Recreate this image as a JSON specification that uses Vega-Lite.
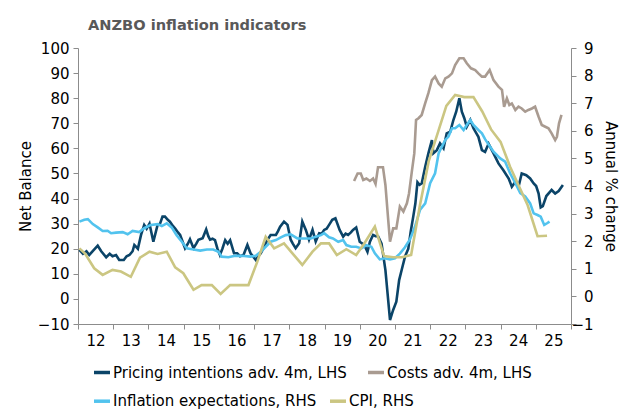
{
  "$schema": "https://vega.github.io/schema/vega-lite/v6.json",
  "width": 493,
  "height": 276,
  "autosize": {"type": "none"},
  "padding": {"left": 78, "top": 48, "right": 69, "bottom": 94},
  "background": "white",
  "title": {"text": "ANZBO inflation indicators", "anchor": "start", "frame": "group", "dx": 10, "fontSize": 14.6, "fontWeight": "bold", "color": "#595959", "font": "DejaVu Sans", "offset": 8},
  "datasets": {
    "pricing": [
      {"t": 2012.04, "v": 19.5}, {"t": 2012.14, "v": 18}, {"t": 2012.24, "v": 19}, {"t": 2012.32, "v": 17.5}, {"t": 2012.45, "v": 19.5}, {"t": 2012.56, "v": 21.2}, {"t": 2012.66, "v": 19}, {"t": 2012.8, "v": 16.6}, {"t": 2012.9, "v": 18}, {"t": 2012.98, "v": 17}, {"t": 2013.08, "v": 17.5}, {"t": 2013.17, "v": 15.5}, {"t": 2013.3, "v": 15.5}, {"t": 2013.38, "v": 17}, {"t": 2013.46, "v": 17.5}, {"t": 2013.55, "v": 19}, {"t": 2013.6, "v": 21.5}, {"t": 2013.7, "v": 20}, {"t": 2013.79, "v": 25.5}, {"t": 2013.88, "v": 29.5}, {"t": 2013.95, "v": 28}, {"t": 2014.03, "v": 30}, {"t": 2014.14, "v": 22.8}, {"t": 2014.26, "v": 29.5}, {"t": 2014.33, "v": 30}, {"t": 2014.4, "v": 32.8}, {"t": 2014.47, "v": 32.8}, {"t": 2014.55, "v": 31.5}, {"t": 2014.61, "v": 30.8}, {"t": 2014.7, "v": 29}, {"t": 2014.76, "v": 28}, {"t": 2014.84, "v": 26.5}, {"t": 2014.9, "v": 25.5}, {"t": 2015.04, "v": 20.2}, {"t": 2015.12, "v": 22}, {"t": 2015.18, "v": 23.8}, {"t": 2015.28, "v": 20.2}, {"t": 2015.36, "v": 22}, {"t": 2015.42, "v": 23.6}, {"t": 2015.54, "v": 24.2}, {"t": 2015.64, "v": 27.7}, {"t": 2015.7, "v": 25}, {"t": 2015.75, "v": 23.6}, {"t": 2015.82, "v": 24}, {"t": 2015.89, "v": 23.4}, {"t": 2015.96, "v": 20}, {"t": 2016.03, "v": 17.5}, {"t": 2016.1, "v": 20}, {"t": 2016.18, "v": 23.4}, {"t": 2016.25, "v": 22}, {"t": 2016.32, "v": 23.4}, {"t": 2016.43, "v": 18.2}, {"t": 2016.52, "v": 18.2}, {"t": 2016.6, "v": 17}, {"t": 2016.7, "v": 17.5}, {"t": 2016.81, "v": 21.5}, {"t": 2016.9, "v": 18.2}, {"t": 2017.05, "v": 15.5}, {"t": 2017.12, "v": 17}, {"t": 2017.19, "v": 18.2}, {"t": 2017.26, "v": 20}, {"t": 2017.33, "v": 22.2}, {"t": 2017.4, "v": 24}, {"t": 2017.47, "v": 25.5}, {"t": 2017.62, "v": 25.5}, {"t": 2017.68, "v": 27}, {"t": 2017.74, "v": 28.8}, {"t": 2017.85, "v": 30.8}, {"t": 2017.95, "v": 29.5}, {"t": 2018.04, "v": 23.6}, {"t": 2018.1, "v": 22}, {"t": 2018.18, "v": 20.2}, {"t": 2018.28, "v": 22.2}, {"t": 2018.37, "v": 30.8}, {"t": 2018.47, "v": 27.5}, {"t": 2018.56, "v": 23.6}, {"t": 2018.66, "v": 27.5}, {"t": 2018.75, "v": 22.9}, {"t": 2018.85, "v": 26.2}, {"t": 2018.92, "v": 26}, {"t": 2018.99, "v": 27.5}, {"t": 2019.06, "v": 28}, {"t": 2019.13, "v": 29.5}, {"t": 2019.22, "v": 31.5}, {"t": 2019.31, "v": 32.1}, {"t": 2019.43, "v": 27.5}, {"t": 2019.53, "v": 24.8}, {"t": 2019.6, "v": 26}, {"t": 2019.67, "v": 25.5}, {"t": 2019.75, "v": 26.5}, {"t": 2019.81, "v": 27.5}, {"t": 2019.9, "v": 28.5}, {"t": 2020.0, "v": 22.8}, {"t": 2020.13, "v": 21.5}, {"t": 2020.22, "v": 18.8}, {"t": 2020.29, "v": 22.8}, {"t": 2020.38, "v": 25.5}, {"t": 2020.45, "v": 25}, {"t": 2020.52, "v": 25}, {"t": 2020.62, "v": 22}, {"t": 2020.73, "v": 11.5}, {"t": 2020.86, "v": -8.4}, {"t": 2020.95, "v": -4.4}, {"t": 2021.04, "v": -1.1}, {"t": 2021.12, "v": 7.5}, {"t": 2021.2, "v": 12}, {"t": 2021.29, "v": 17}, {"t": 2021.38, "v": 20}, {"t": 2021.45, "v": 27}, {"t": 2021.52, "v": 32.8}, {"t": 2021.58, "v": 38}, {"t": 2021.64, "v": 46.5}, {"t": 2021.7, "v": 45.5}, {"t": 2021.76, "v": 46}, {"t": 2021.86, "v": 52.7}, {"t": 2021.95, "v": 58}, {"t": 2022.05, "v": 63.3}, {"t": 2022.09, "v": 58}, {"t": 2022.19, "v": 59.3}, {"t": 2022.28, "v": 62}, {"t": 2022.38, "v": 60}, {"t": 2022.47, "v": 66}, {"t": 2022.57, "v": 66.6}, {"t": 2022.66, "v": 71.3}, {"t": 2022.74, "v": 74.6}, {"t": 2022.83, "v": 80}, {"t": 2022.9, "v": 74.6}, {"t": 2022.97, "v": 72}, {"t": 2023.04, "v": 68.6}, {"t": 2023.14, "v": 71.3}, {"t": 2023.23, "v": 68}, {"t": 2023.37, "v": 64.6}, {"t": 2023.47, "v": 59.3}, {"t": 2023.56, "v": 58.6}, {"t": 2023.66, "v": 61.8}, {"t": 2023.8, "v": 58}, {"t": 2023.94, "v": 54}, {"t": 2024.08, "v": 51.3}, {"t": 2024.23, "v": 48}, {"t": 2024.32, "v": 44.7}, {"t": 2024.42, "v": 46.7}, {"t": 2024.51, "v": 44.7}, {"t": 2024.6, "v": 50}, {"t": 2024.73, "v": 49.3}, {"t": 2024.84, "v": 48}, {"t": 2024.94, "v": 46}, {"t": 2025.01, "v": 45}, {"t": 2025.08, "v": 42}, {"t": 2025.14, "v": 36.5}, {"t": 2025.2, "v": 37}, {"t": 2025.3, "v": 41}, {"t": 2025.45, "v": 43.4}, {"t": 2025.55, "v": 42}, {"t": 2025.65, "v": 43}, {"t": 2025.77, "v": 45.4}
    ],
    "costs": [
      {"t": 2019.84, "v": 47}, {"t": 2019.94, "v": 50}, {"t": 2020.03, "v": 50}, {"t": 2020.1, "v": 47.4}, {"t": 2020.19, "v": 48}, {"t": 2020.29, "v": 47}, {"t": 2020.38, "v": 48}, {"t": 2020.45, "v": 45.8}, {"t": 2020.52, "v": 52.5}, {"t": 2020.66, "v": 52.5}, {"t": 2020.73, "v": 45.4}, {"t": 2020.81, "v": 31.4}, {"t": 2020.86, "v": 22.8}, {"t": 2020.95, "v": 28.1}, {"t": 2021.04, "v": 28.1}, {"t": 2021.14, "v": 36.8}, {"t": 2021.24, "v": 34.8}, {"t": 2021.34, "v": 38.1}, {"t": 2021.4, "v": 42}, {"t": 2021.48, "v": 50.7}, {"t": 2021.55, "v": 58}, {"t": 2021.6, "v": 71.3}, {"t": 2021.67, "v": 72}, {"t": 2021.76, "v": 73.3}, {"t": 2021.86, "v": 78}, {"t": 2021.95, "v": 82}, {"t": 2022.05, "v": 87.2}, {"t": 2022.14, "v": 88.6}, {"t": 2022.24, "v": 85.9}, {"t": 2022.33, "v": 84.6}, {"t": 2022.43, "v": 87.9}, {"t": 2022.52, "v": 88.6}, {"t": 2022.62, "v": 89.9}, {"t": 2022.71, "v": 93.2}, {"t": 2022.83, "v": 95.9}, {"t": 2022.95, "v": 95.9}, {"t": 2023.04, "v": 93.9}, {"t": 2023.16, "v": 91.9}, {"t": 2023.28, "v": 91.2}, {"t": 2023.37, "v": 89.9}, {"t": 2023.47, "v": 88.6}, {"t": 2023.56, "v": 88.6}, {"t": 2023.69, "v": 91.2}, {"t": 2023.8, "v": 87.2}, {"t": 2023.94, "v": 84.6}, {"t": 2024.04, "v": 83.3}, {"t": 2024.1, "v": 76.6}, {"t": 2024.18, "v": 79.9}, {"t": 2024.25, "v": 77.3}, {"t": 2024.32, "v": 77.9}, {"t": 2024.42, "v": 75.3}, {"t": 2024.51, "v": 76.6}, {"t": 2024.6, "v": 75.9}, {"t": 2024.7, "v": 74.6}, {"t": 2024.79, "v": 75.3}, {"t": 2024.89, "v": 75.9}, {"t": 2024.98, "v": 76.6}, {"t": 2025.08, "v": 72.6}, {"t": 2025.17, "v": 69.3}, {"t": 2025.27, "v": 68.6}, {"t": 2025.36, "v": 68}, {"t": 2025.45, "v": 66}, {"t": 2025.55, "v": 63.3}, {"t": 2025.6, "v": 64.6}, {"t": 2025.66, "v": 70}, {"t": 2025.73, "v": 73.3}
    ],
    "expectations": [
      {"t": 2012.04, "v": 2.71}, {"t": 2012.18, "v": 2.78}, {"t": 2012.28, "v": 2.8}, {"t": 2012.42, "v": 2.62}, {"t": 2012.56, "v": 2.5}, {"t": 2012.7, "v": 2.37}, {"t": 2012.84, "v": 2.38}, {"t": 2012.94, "v": 2.29}, {"t": 2013.08, "v": 2.31}, {"t": 2013.27, "v": 2.33}, {"t": 2013.41, "v": 2.25}, {"t": 2013.55, "v": 2.37}, {"t": 2013.74, "v": 2.33}, {"t": 2013.88, "v": 2.47}, {"t": 2014.07, "v": 2.59}, {"t": 2014.26, "v": 2.62}, {"t": 2014.38, "v": 2.55}, {"t": 2014.52, "v": 2.65}, {"t": 2014.66, "v": 2.5}, {"t": 2014.8, "v": 2.22}, {"t": 2014.95, "v": 1.98}, {"t": 2015.09, "v": 1.74}, {"t": 2015.28, "v": 1.7}, {"t": 2015.47, "v": 1.66}, {"t": 2015.66, "v": 1.7}, {"t": 2015.84, "v": 1.7}, {"t": 2015.99, "v": 1.62}, {"t": 2016.08, "v": 1.44}, {"t": 2016.27, "v": 1.42}, {"t": 2016.46, "v": 1.47}, {"t": 2016.65, "v": 1.47}, {"t": 2016.9, "v": 1.44}, {"t": 2017.05, "v": 1.47}, {"t": 2017.19, "v": 1.62}, {"t": 2017.33, "v": 1.8}, {"t": 2017.47, "v": 1.98}, {"t": 2017.62, "v": 2.04}, {"t": 2017.76, "v": 2.14}, {"t": 2017.9, "v": 2.22}, {"t": 2018.04, "v": 2.25}, {"t": 2018.23, "v": 2.1}, {"t": 2018.42, "v": 2.1}, {"t": 2018.61, "v": 2.1}, {"t": 2018.75, "v": 2.16}, {"t": 2018.9, "v": 2.22}, {"t": 2018.99, "v": 2.29}, {"t": 2019.13, "v": 2.14}, {"t": 2019.24, "v": 2.1}, {"t": 2019.39, "v": 1.98}, {"t": 2019.53, "v": 2.04}, {"t": 2019.62, "v": 1.86}, {"t": 2019.76, "v": 1.8}, {"t": 2019.9, "v": 1.8}, {"t": 2020.05, "v": 1.74}, {"t": 2020.19, "v": 1.86}, {"t": 2020.33, "v": 1.8}, {"t": 2020.43, "v": 1.56}, {"t": 2020.57, "v": 1.34}, {"t": 2020.71, "v": 1.38}, {"t": 2020.86, "v": 1.34}, {"t": 2021.0, "v": 1.38}, {"t": 2021.14, "v": 1.55}, {"t": 2021.28, "v": 1.77}, {"t": 2021.43, "v": 2.07}, {"t": 2021.57, "v": 2.53}, {"t": 2021.71, "v": 3.13}, {"t": 2021.86, "v": 3.37}, {"t": 2022.0, "v": 4.1}, {"t": 2022.14, "v": 4.46}, {"t": 2022.24, "v": 5.18}, {"t": 2022.33, "v": 5.42}, {"t": 2022.43, "v": 5.67}, {"t": 2022.52, "v": 5.79}, {"t": 2022.62, "v": 6.09}, {"t": 2022.71, "v": 6.09}, {"t": 2022.83, "v": 6.21}, {"t": 2022.95, "v": 6.03}, {"t": 2023.04, "v": 6.21}, {"t": 2023.14, "v": 6.39}, {"t": 2023.23, "v": 6.21}, {"t": 2023.37, "v": 6.03}, {"t": 2023.47, "v": 5.91}, {"t": 2023.56, "v": 5.7}, {"t": 2023.66, "v": 5.5}, {"t": 2023.8, "v": 5.24}, {"t": 2023.99, "v": 5.0}, {"t": 2024.13, "v": 4.88}, {"t": 2024.27, "v": 4.46}, {"t": 2024.42, "v": 4.1}, {"t": 2024.56, "v": 3.74}, {"t": 2024.7, "v": 3.62}, {"t": 2024.84, "v": 3.37}, {"t": 2024.94, "v": 3.01}, {"t": 2025.05, "v": 2.95}, {"t": 2025.14, "v": 2.89}, {"t": 2025.24, "v": 2.59}, {"t": 2025.32, "v": 2.65}, {"t": 2025.39, "v": 2.71}
    ],
    "cpi": [
      {"t": 2012.04, "v": 1.74}, {"t": 2012.2, "v": 1.55}, {"t": 2012.46, "v": 1.02}, {"t": 2012.7, "v": 0.78}, {"t": 2012.98, "v": 0.96}, {"t": 2013.22, "v": 0.9}, {"t": 2013.5, "v": 0.71}, {"t": 2013.76, "v": 1.4}, {"t": 2014.03, "v": 1.62}, {"t": 2014.26, "v": 1.54}, {"t": 2014.52, "v": 1.62}, {"t": 2014.76, "v": 1.05}, {"t": 2014.99, "v": 0.84}, {"t": 2015.28, "v": 0.24}, {"t": 2015.51, "v": 0.41}, {"t": 2015.8, "v": 0.41}, {"t": 2016.05, "v": 0.09}, {"t": 2016.32, "v": 0.41}, {"t": 2016.6, "v": 0.41}, {"t": 2016.84, "v": 0.41}, {"t": 2017.09, "v": 1.25}, {"t": 2017.33, "v": 2.16}, {"t": 2017.57, "v": 1.74}, {"t": 2017.85, "v": 1.92}, {"t": 2018.09, "v": 1.56}, {"t": 2018.37, "v": 1.14}, {"t": 2018.66, "v": 1.62}, {"t": 2018.9, "v": 1.92}, {"t": 2019.13, "v": 1.92}, {"t": 2019.35, "v": 1.5}, {"t": 2019.62, "v": 1.71}, {"t": 2019.9, "v": 1.5}, {"t": 2020.13, "v": 1.92}, {"t": 2020.43, "v": 2.53}, {"t": 2020.69, "v": 1.46}, {"t": 2020.95, "v": 1.42}, {"t": 2021.2, "v": 1.42}, {"t": 2021.46, "v": 1.5}, {"t": 2021.71, "v": 3.3}, {"t": 2021.96, "v": 4.9}, {"t": 2022.21, "v": 5.9}, {"t": 2022.46, "v": 6.9}, {"t": 2022.71, "v": 7.3}, {"t": 2022.97, "v": 7.22}, {"t": 2023.23, "v": 7.22}, {"t": 2023.48, "v": 6.7}, {"t": 2023.73, "v": 6.05}, {"t": 2024.0, "v": 5.6}, {"t": 2024.27, "v": 4.7}, {"t": 2024.52, "v": 4.0}, {"t": 2024.77, "v": 3.3}, {"t": 2025.05, "v": 2.18}, {"t": 2025.32, "v": 2.2}
    ]
  },
  "encoding": {
    "x": {
      "field": "t", "type": "quantitative",
      "scale": {"domain": [2012, 2026], "nice": false, "zero": false},
      "axis": {
        "title": null, "values": [2012, 2013, 2014, 2015, 2016, 2017, 2018, 2019, 2020, 2021, 2022, 2023, 2024, 2025, 2026],
        "labelExpr": "datum.value < 2026 ? format(datum.value - 2000, 'd') : ''",
        "labelOffset": 17.6, "labelOverlap": false, "labelBound": false, "labelFlush": false,
        "tickSize": 5, "labelPadding": 4, "grid": false
      }
    }
  },
  "layer": [
    {
      "encoding": {
        "y": {
          "field": "v", "type": "quantitative",
          "scale": {"domain": [-10, 100], "nice": false, "zero": false},
          "axis": {"orient": "left", "title": "Net Balance", "values": [-10, 0, 10, 20, 30, 40, 50, 60, 70, 80, 90, 100], "tickSize": 5, "labelPadding": 4, "titlePadding": 4, "grid": false}
        }
      },
      "layer": [
        {
          "data": {"name": "pricing"},
          "mark": {"type": "line", "strokeWidth": 2.6},
          "encoding": {
            "color": {
              "datum": "Pricing intentions adv. 4m, LHS", "type": "nominal",
              "scale": {"domain": ["Pricing intentions adv. 4m, LHS", "Costs adv. 4m, LHS"], "range": ["#0b4468", "#a99b91"]},
              "legend": {"title": null, "orient": "none", "legendX": 14, "legendY": 314.5, "direction": "horizontal", "columnPadding": 14}
            }
          }
        },
        {
          "data": {"name": "costs"},
          "mark": {"type": "line", "strokeWidth": 2.6},
          "encoding": {"color": {"datum": "Costs adv. 4m, LHS", "type": "nominal"}}
        }
      ]
    },
    {
      "encoding": {
        "y": {
          "field": "v", "type": "quantitative",
          "scale": {"domain": [-1, 9], "nice": false, "zero": false},
          "axis": {"orient": "right", "title": "Annual % change", "values": [-1, 0, 1, 2, 3, 4, 5, 6, 7, 8, 9], "tickSize": 5, "labelAlign": "right", "labelPadding": 17, "titlePadding": 9, "grid": false}
        }
      },
      "layer": [
        {
          "data": {"name": "expectations"},
          "mark": {"type": "line", "strokeWidth": 2.6},
          "encoding": {
            "color": {
              "datum": "Inflation expectations, RHS", "type": "nominal",
              "scale": {"domain": ["Inflation expectations, RHS", "CPI, RHS"], "range": ["#52c3ee", "#cbc682"]},
              "legend": {"title": null, "orient": "none", "legendX": 14, "legendY": 343.2, "direction": "horizontal", "columnPadding": 6}
            }
          }
        },
        {
          "data": {"name": "cpi"},
          "mark": {"type": "line", "strokeWidth": 2.6},
          "encoding": {"color": {"datum": "CPI, RHS", "type": "nominal"}}
        }
      ]
    }
  ],
  "resolve": {"scale": {"y": "independent", "color": "independent"}},
  "config": {
    "font": "DejaVu Sans",
    "view": {"stroke": null},
    "axis": {
      "labelFont": "DejaVu Sans", "labelFontSize": 15, "labelColor": "#000000",
      "titleFont": "DejaVu Sans", "titleFontSize": 15, "titleFontWeight": "normal", "titleColor": "#000000",
      "domainColor": "#8c8c8c", "tickColor": "#8c8c8c", "domainWidth": 1, "tickWidth": 1
    },
    "legend": {
      "symbolType": "stroke", "symbolSize": 256, "symbolStrokeWidth": 3.5, "gridAlign": "none",
      "labelFont": "DejaVu Sans", "labelFontSize": 15, "labelColor": "#000000", "labelOffset": 1, "labelLimit": 0
    }
  }
}
